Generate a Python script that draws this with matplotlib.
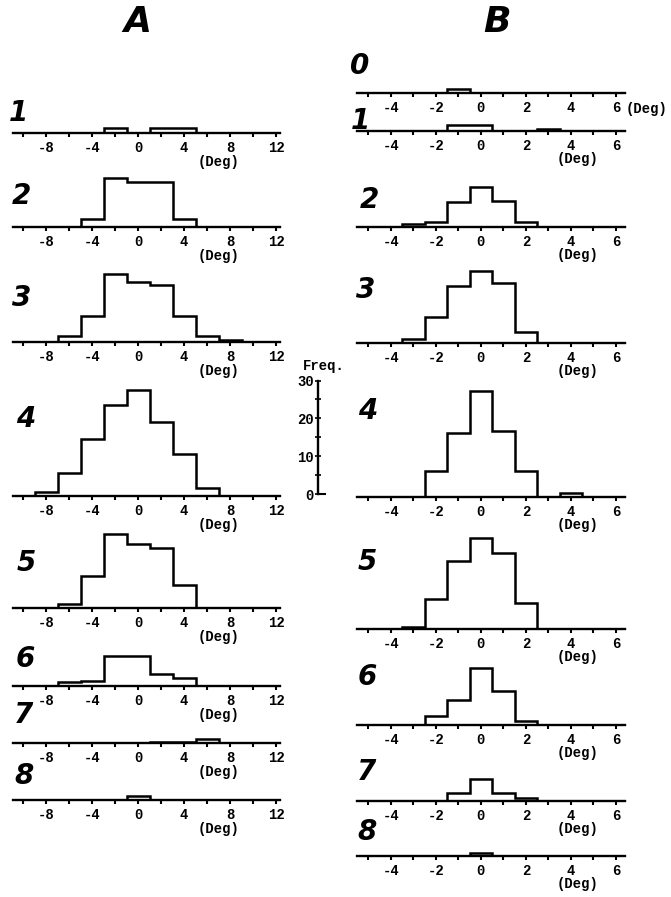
import numpy as np
import matplotlib
matplotlib.use("Agg")
import matplotlib.pyplot as plt

# bin centres (deg)
a_centers = np.arange(-8, 9, 2)     # width 2
b_centers = np.arange(-4, 5, 1)     # width 1

# frequencies, column A
a1 = [0, 0, 0, 1.3, 0, 1.2, 1.2, 0, 0]
a2 = [0, 0, 2, 13, 12, 12, 2, 0, 0]
a3 = [0, 1.5, 7, 18, 16, 15, 7, 1.5, 0.5]
a4 = [1, 6, 15, 24, 28, 19.5, 11, 2, 0]
a5 = [0, 1, 8.5, 19.5, 17, 16, 6, 0, 0]
a6 = [0, 1, 1.3, 8, 8, 3.3, 2, 0, 0]
a7 = [0, 0, 0, 0, 0, 0.3, 0.3, 1, 0]
a8 = [0, 0, 0, 0, 1, 0, 0, 0, 0]

# column B
b0 = [0, 0, 0, 1, 0, 0, 0, 0, 0]
b1 = [0, 0, 0, 1.5, 1.5, 0, 0, 0.6, 0]
b2 = [0, 0.7, 1.3, 6.6, 10.6, 6.8, 1.3, 0, 0]
b3 = [0, 1, 7, 15, 19, 16, 3, 0, 0]
b4 = [0, 0, 7, 17, 28, 17.5, 7, 0, 1]
b5 = [0, 0.6, 8, 18, 24, 20, 7, 0, 0]
b6 = [0, 0, 2.5, 6.6, 15, 9, 1, 0, 0]
b7 = [0, 0, 0, 2.2, 5.7, 2.1, 0.9, 0, 0]
b8 = [0, 0, 0, 0, 0.7, 0, 0, 0, 0]

a_data = [a1, a2, a3, a4, a5, a6, a7, a8]
a_names = ["1", "2", "3", "4", "5", "6", "7", "8"]
b_data = [b0, b1, b2, b3, b4, b5, b6, b7, b8]
b_names = ["0", "1", "2", "3", "4", "5", "6", "7", "8"]

a_ticks = np.arange(-10, 13, 2)
a_labels = [-8, -4, 0, 4, 8, 12]
b_ticks = np.arange(-5, 7, 1)
b_labels = [-4, -2, 0, 2, 4, 6]

W, H = 671, 897
fig = plt.figure(figsize=(W / 100, H / 100), dpi=100)
fig.patch.set_facecolor("white")

mono = "Liberation Mono"
scale = 113.4 / 30.0   # px per count

def fx(px):
    return px / W

def fy(py):
    return 1 - py / H

def panel(left, width, base, xlim, centers, width_bin, vals, ticks, labels):
    ax = fig.add_axes([fx(left), fy(base), fx(width), 30 * scale / H])
    ax.set_xlim(*xlim)
    ax.set_ylim(0, 30)
    ax.patch.set_visible(False)
    for s in ["top", "left", "right"]:
        ax.spines[s].set_visible(False)
    ax.spines["bottom"].set_linewidth(1.7)
    ax.set_yticks([])
    ax.set_xticks(ticks, minor=True)
    ax.set_xticks(labels)
    ax.set_xticklabels([str(v) for v in labels], fontfamily=mono,
                       fontweight="bold", fontsize=10)
    ax.tick_params(axis="x", which="both", direction="out", length=3,
                   width=1.5, pad=2.5)
    edges = np.append(np.array(centers) - width_bin / 2,
                      centers[-1] + width_bin / 2)
    ax.stairs(vals, edges, baseline=0, color="black", lw=1.8)
    return ax

lab = dict(fontsize=20, fontweight="heavy", style="italic",
           ha="center", va="center", family="DejaVu Sans")
deg = dict(fontfamily=mono, fontweight="bold", fontsize=10,
           ha="center", va="center")

# column A
a_base = [133, 227, 342, 496, 608, 686, 743, 800]
a_lab = [(18, 113), (21, 196), (22, 298), (26, 419), (26, 563),
         (25, 659), (23, 715), (24, 776)]
for vals, name, base, (lx, ly) in zip(a_data, a_names, a_base, a_lab):
    panel(13, 267, base, (-10.9, 12.35), a_centers, 2, vals, a_ticks, a_labels)
    fig.text(fx(lx), fy(ly), name, **lab)
    fig.text(fx(219), fy(base + 29), "(Deg)", **deg)

# column B
b_base = [93, 131, 227, 343, 497, 629, 725, 801, 856]
b_lab = [(360, 66), (360, 121), (369, 200), (366, 290), (368, 411),
         (367, 562), (367, 677), (366, 772), (367, 832)]
for i, (vals, name, base, (lx, ly)) in enumerate(zip(b_data, b_names, b_base, b_lab)):
    panel(357, 268, base, (-5.5, 6.4), b_centers, 1, vals, b_ticks, b_labels)
    fig.text(fx(lx), fy(ly), name, **lab)
    if i == 0:
        fig.text(fx(647), fy(base + 16), "(Deg)", **deg)
    else:
        fig.text(fx(578), fy(base + 28), "(Deg)", **deg)

# frequency scale
fax = fig.add_axes([fx(318), fy(494), fx(8), 30 * scale / H])
fax.set_ylim(0, 30)
fax.set_xlim(0, 1)
fax.patch.set_visible(False)
for s in ["top", "right", "bottom"]:
    fax.spines[s].set_visible(False)
fax.spines["left"].set_linewidth(1.7)
fax.set_xticks([])
fax.set_yticks([0, 10, 20, 30])
fax.set_yticks([5, 15, 25], minor=True)
fax.set_yticklabels(["0", "10", "20", "30"], fontfamily=mono,
                    fontweight="bold", fontsize=10)
fax.tick_params(axis="y", which="both", direction="inout", length=4,
                width=1.2, pad=1)
fax.plot([0, 0.9], [0, 0], color="black", lw=1.5, clip_on=False)
fig.text(fx(324), fy(366), "Freq.", **deg)

# column titles
fig.text(fx(137), fy(22), "A", fontsize=26, fontweight="heavy", style="italic",
         ha="center", va="center", family="DejaVu Sans")
fig.text(fx(497), fy(22), "B", fontsize=26, fontweight="heavy", style="italic",
         ha="center", va="center", family="DejaVu Sans")

fig.savefig("out.png", dpi=100, facecolor="white")
